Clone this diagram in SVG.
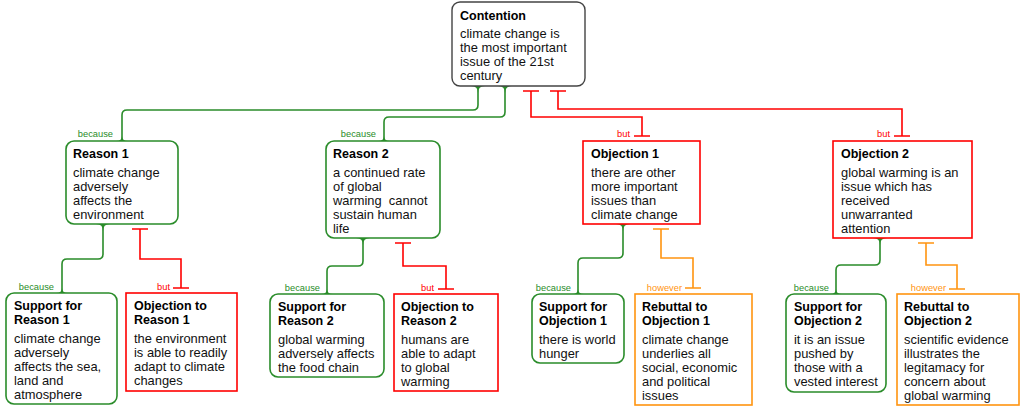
<svg xmlns="http://www.w3.org/2000/svg" width="1024" height="407" viewBox="0 0 1024 407">
<style>
  .bg{fill:#fff}
  .g{fill:#fff;stroke:#2a8c2a;stroke-width:1.6}
  .r{fill:#fff;stroke:#ff0000;stroke-width:1.6}
  .o{fill:#fff;stroke:#ff9410;stroke-width:1.6}
  .c{fill:#fff;stroke:#444;stroke-width:1.4}
  text{font-family:"Liberation Sans",Arial,sans-serif}
  .t{font-size:12.5px;font-weight:bold;fill:#000}
  .b{font-size:12.9px;fill:#111}
  .lg{font-size:9.3px;fill:#2a8c2a;text-anchor:end}
  .lr{font-size:9.3px;fill:#ff0000;text-anchor:end}
  .lo{font-size:9.3px;fill:#ff9410;text-anchor:end}
  .cg{fill:none;stroke:#2a8c2a;stroke-width:1.6}
  .cr{fill:none;stroke:#ff0000;stroke-width:1.6}
  .co{fill:none;stroke:#ff9410;stroke-width:1.6}
  .fg{fill:#2a8c2a}
</style>
<rect class="bg" x="0" y="0" width="1024" height="407"/>

<g id="connectors">
  <!-- because: green -->
  <path class="cg" d="M478,86 V105 Q478,110 473,110 H127 Q122,110 122,115 V141"/>
  <path class="fg" d="M471,86 Q478,86 478,93 Q478,86 485,86 Z"/>
  <path class="fg" d="M116,141 Q122,141 122,136 Q122,141 128,141 Z"/>
  <text class="lg" x="113" y="137">because</text>

  <path class="cg" d="M505,86 V112 Q505,117 500,117 H389 Q384,117 384,122 V141"/>
  <path class="fg" d="M498,86 Q505,86 505,93 Q505,86 512,86 Z"/>
  <path class="fg" d="M378,141 Q384,141 384,136 Q384,141 390,141 Z"/>
  <text class="lg" x="376" y="137">because</text>

  <path class="cg" d="M103,224 V254 Q103,259 98,259 H67 Q62,259 62,264 V293"/>
  <path class="fg" d="M96,224 Q103,224 103,231 Q103,224 110,224 Z"/>
  <path class="fg" d="M56,293 Q62,293 62,288 Q62,293 68,293 Z"/>
  <text class="lg" x="54" y="290">because</text>

  <path class="cg" d="M363,238 V261 Q363,266 358,266 H332 Q327,266 327,271 V294"/>
  <path class="fg" d="M356,238 Q363,238 363,245 Q363,238 370,238 Z"/>
  <path class="fg" d="M321,294 Q327,294 327,289 Q327,294 333,294 Z"/>
  <text class="lg" x="320" y="291">because</text>

  <path class="cg" d="M623,224 V253 Q623,258 618,258 H583 Q578,258 578,263 V294"/>
  <path class="fg" d="M616,224 Q623,224 623,231 Q623,224 630,224 Z"/>
  <path class="fg" d="M572,294 Q578,294 578,289 Q578,294 584,294 Z"/>
  <text class="lg" x="571" y="291">because</text>

  <path class="cg" d="M880,238 V260 Q880,265 875,265 H841 Q836,265 836,270 V294"/>
  <path class="fg" d="M873,238 Q880,238 880,245 Q880,238 887,238 Z"/>
  <path class="fg" d="M830,294 Q836,294 836,289 Q836,294 842,294 Z"/>
  <text class="lg" x="829" y="291">because</text>

  <!-- but: red -->
  <path class="cr" d="M523,91 H539 M531,91 V117 H642 V136 M634,136 H650"/>
  <text class="lr" x="630" y="137">but</text>

  <path class="cr" d="M550,91 H566 M558,91 V109 H902 V136 M894,136 H910"/>
  <text class="lr" x="890" y="137">but</text>

  <path class="cr" d="M132,229 H148 M140,229 V259 H181 V288 M173,288 H189"/>
  <text class="lr" x="170" y="290">but</text>

  <path class="cr" d="M395,243 H411 M403,243 V266 H446 V289 M438,289 H454"/>
  <text class="lr" x="434" y="291">but</text>

  <!-- however: orange -->
  <path class="co" d="M653,229 H669 M661,229 V258 H693 V288 M685,288 H701"/>
  <text class="lo" x="682" y="291">however</text>

  <path class="co" d="M918,243 H934 M926,243 V265 H957 V289 M949,289 H965"/>
  <text class="lo" x="946" y="291">however</text>
</g>

<g id="contention">
  <rect class="c" x="452" y="2" width="133" height="84" rx="8"/>
  <text class="t" x="460" y="20">Contention</text>
  <text class="b" x="460" y="38">climate change is</text>
  <text class="b" x="460" y="52">the most important</text>
  <text class="b" x="460" y="66">issue of the 21st</text>
  <text class="b" x="460" y="80">century</text>
</g>

<g id="reason1">
  <rect class="g" x="66" y="141" width="112" height="83" rx="8"/>
  <text class="t" x="73" y="158">Reason 1</text>
  <text class="b" x="73" y="177">climate change</text>
  <text class="b" x="73" y="191">adversely</text>
  <text class="b" x="73" y="205">affects the</text>
  <text class="b" x="73" y="219">environment</text>
</g>

<g id="reason2">
  <rect class="g" x="326" y="141" width="114" height="97" rx="8"/>
  <text class="t" x="333" y="158">Reason 2</text>
  <text class="b" x="333" y="177">a continued rate</text>
  <text class="b" x="333" y="191">of global</text>
  <text class="b" x="333" y="205" xml:space="preserve">warming  cannot</text>
  <text class="b" x="333" y="219">sustain human</text>
  <text class="b" x="333" y="233">life</text>
</g>

<g id="objection1">
  <rect class="r" x="583" y="141" width="117" height="83"/>
  <text class="t" x="591" y="158">Objection 1</text>
  <text class="b" x="591" y="177">there are other</text>
  <text class="b" x="591" y="191">more important</text>
  <text class="b" x="591" y="205">issues than</text>
  <text class="b" x="591" y="219">climate change</text>
</g>

<g id="objection2">
  <rect class="r" x="833" y="141" width="139" height="97"/>
  <text class="t" x="841" y="158">Objection 2</text>
  <text class="b" x="841" y="177">global warming is an</text>
  <text class="b" x="841" y="191">issue which has</text>
  <text class="b" x="841" y="205">received</text>
  <text class="b" x="841" y="219">unwarranted</text>
  <text class="b" x="841" y="233">attention</text>
</g>

<g id="support-reason1">
  <rect class="g" x="6" y="293" width="111" height="111" rx="8"/>
  <text class="t" x="14" y="310">Support for</text>
  <text class="t" x="14" y="324">Reason 1</text>
  <text class="b" x="14" y="343">climate change</text>
  <text class="b" x="14" y="357">adversely</text>
  <text class="b" x="14" y="371">affects the sea,</text>
  <text class="b" x="14" y="385">land and</text>
  <text class="b" x="14" y="399">atmosphere</text>
</g>

<g id="objection-reason1">
  <rect class="r" x="126" y="293" width="111" height="98"/>
  <text class="t" x="134" y="310">Objection to</text>
  <text class="t" x="134" y="324">Reason 1</text>
  <text class="b" x="134" y="343">the environment</text>
  <text class="b" x="134" y="357">is able to readily</text>
  <text class="b" x="134" y="371">adapt to climate</text>
  <text class="b" x="134" y="385">changes</text>
</g>

<g id="support-reason2">
  <rect class="g" x="270" y="294" width="114" height="83" rx="8"/>
  <text class="t" x="278" y="311">Support for</text>
  <text class="t" x="278" y="325">Reason 2</text>
  <text class="b" x="278" y="344">global warming</text>
  <text class="b" x="278" y="358">adversely affects</text>
  <text class="b" x="278" y="372">the food chain</text>
</g>

<g id="objection-reason2">
  <rect class="r" x="394" y="294" width="104" height="97"/>
  <text class="t" x="401" y="311">Objection to</text>
  <text class="t" x="401" y="325">Reason 2</text>
  <text class="b" x="401" y="344">humans are</text>
  <text class="b" x="401" y="358">able to adapt</text>
  <text class="b" x="401" y="372">to global</text>
  <text class="b" x="401" y="386">warming</text>
</g>

<g id="support-objection1">
  <rect class="g" x="532" y="294" width="92" height="69" rx="8"/>
  <text class="t" x="539" y="311">Support for</text>
  <text class="t" x="539" y="325">Objection 1</text>
  <text class="b" x="539" y="344">there is world</text>
  <text class="b" x="539" y="358">hunger</text>
</g>

<g id="rebuttal-objection1">
  <rect class="o" x="635" y="294" width="117" height="111"/>
  <text class="t" x="642" y="311">Rebuttal to</text>
  <text class="t" x="642" y="325">Objection 1</text>
  <text class="b" x="642" y="344">climate change</text>
  <text class="b" x="642" y="358">underlies all</text>
  <text class="b" x="642" y="372">social, economic</text>
  <text class="b" x="642" y="386">and political</text>
  <text class="b" x="642" y="400">issues</text>
</g>

<g id="support-objection2">
  <rect class="g" x="786" y="294" width="100" height="98" rx="8"/>
  <text class="t" x="794" y="311">Support for</text>
  <text class="t" x="794" y="325">Objection 2</text>
  <text class="b" x="794" y="344">it is an issue</text>
  <text class="b" x="794" y="358">pushed by</text>
  <text class="b" x="794" y="372">those with a</text>
  <text class="b" x="794" y="386">vested interest</text>
</g>

<g id="rebuttal-objection2">
  <rect class="o" x="897" y="294" width="122" height="111"/>
  <text class="t" x="904" y="311">Rebuttal to</text>
  <text class="t" x="904" y="325">Objection 2</text>
  <text class="b" x="904" y="344">scientific evidence</text>
  <text class="b" x="904" y="358">illustrates the</text>
  <text class="b" x="904" y="372">legitamacy for</text>
  <text class="b" x="904" y="386">concern about</text>
  <text class="b" x="904" y="400">global warming</text>
</g>
</svg>
